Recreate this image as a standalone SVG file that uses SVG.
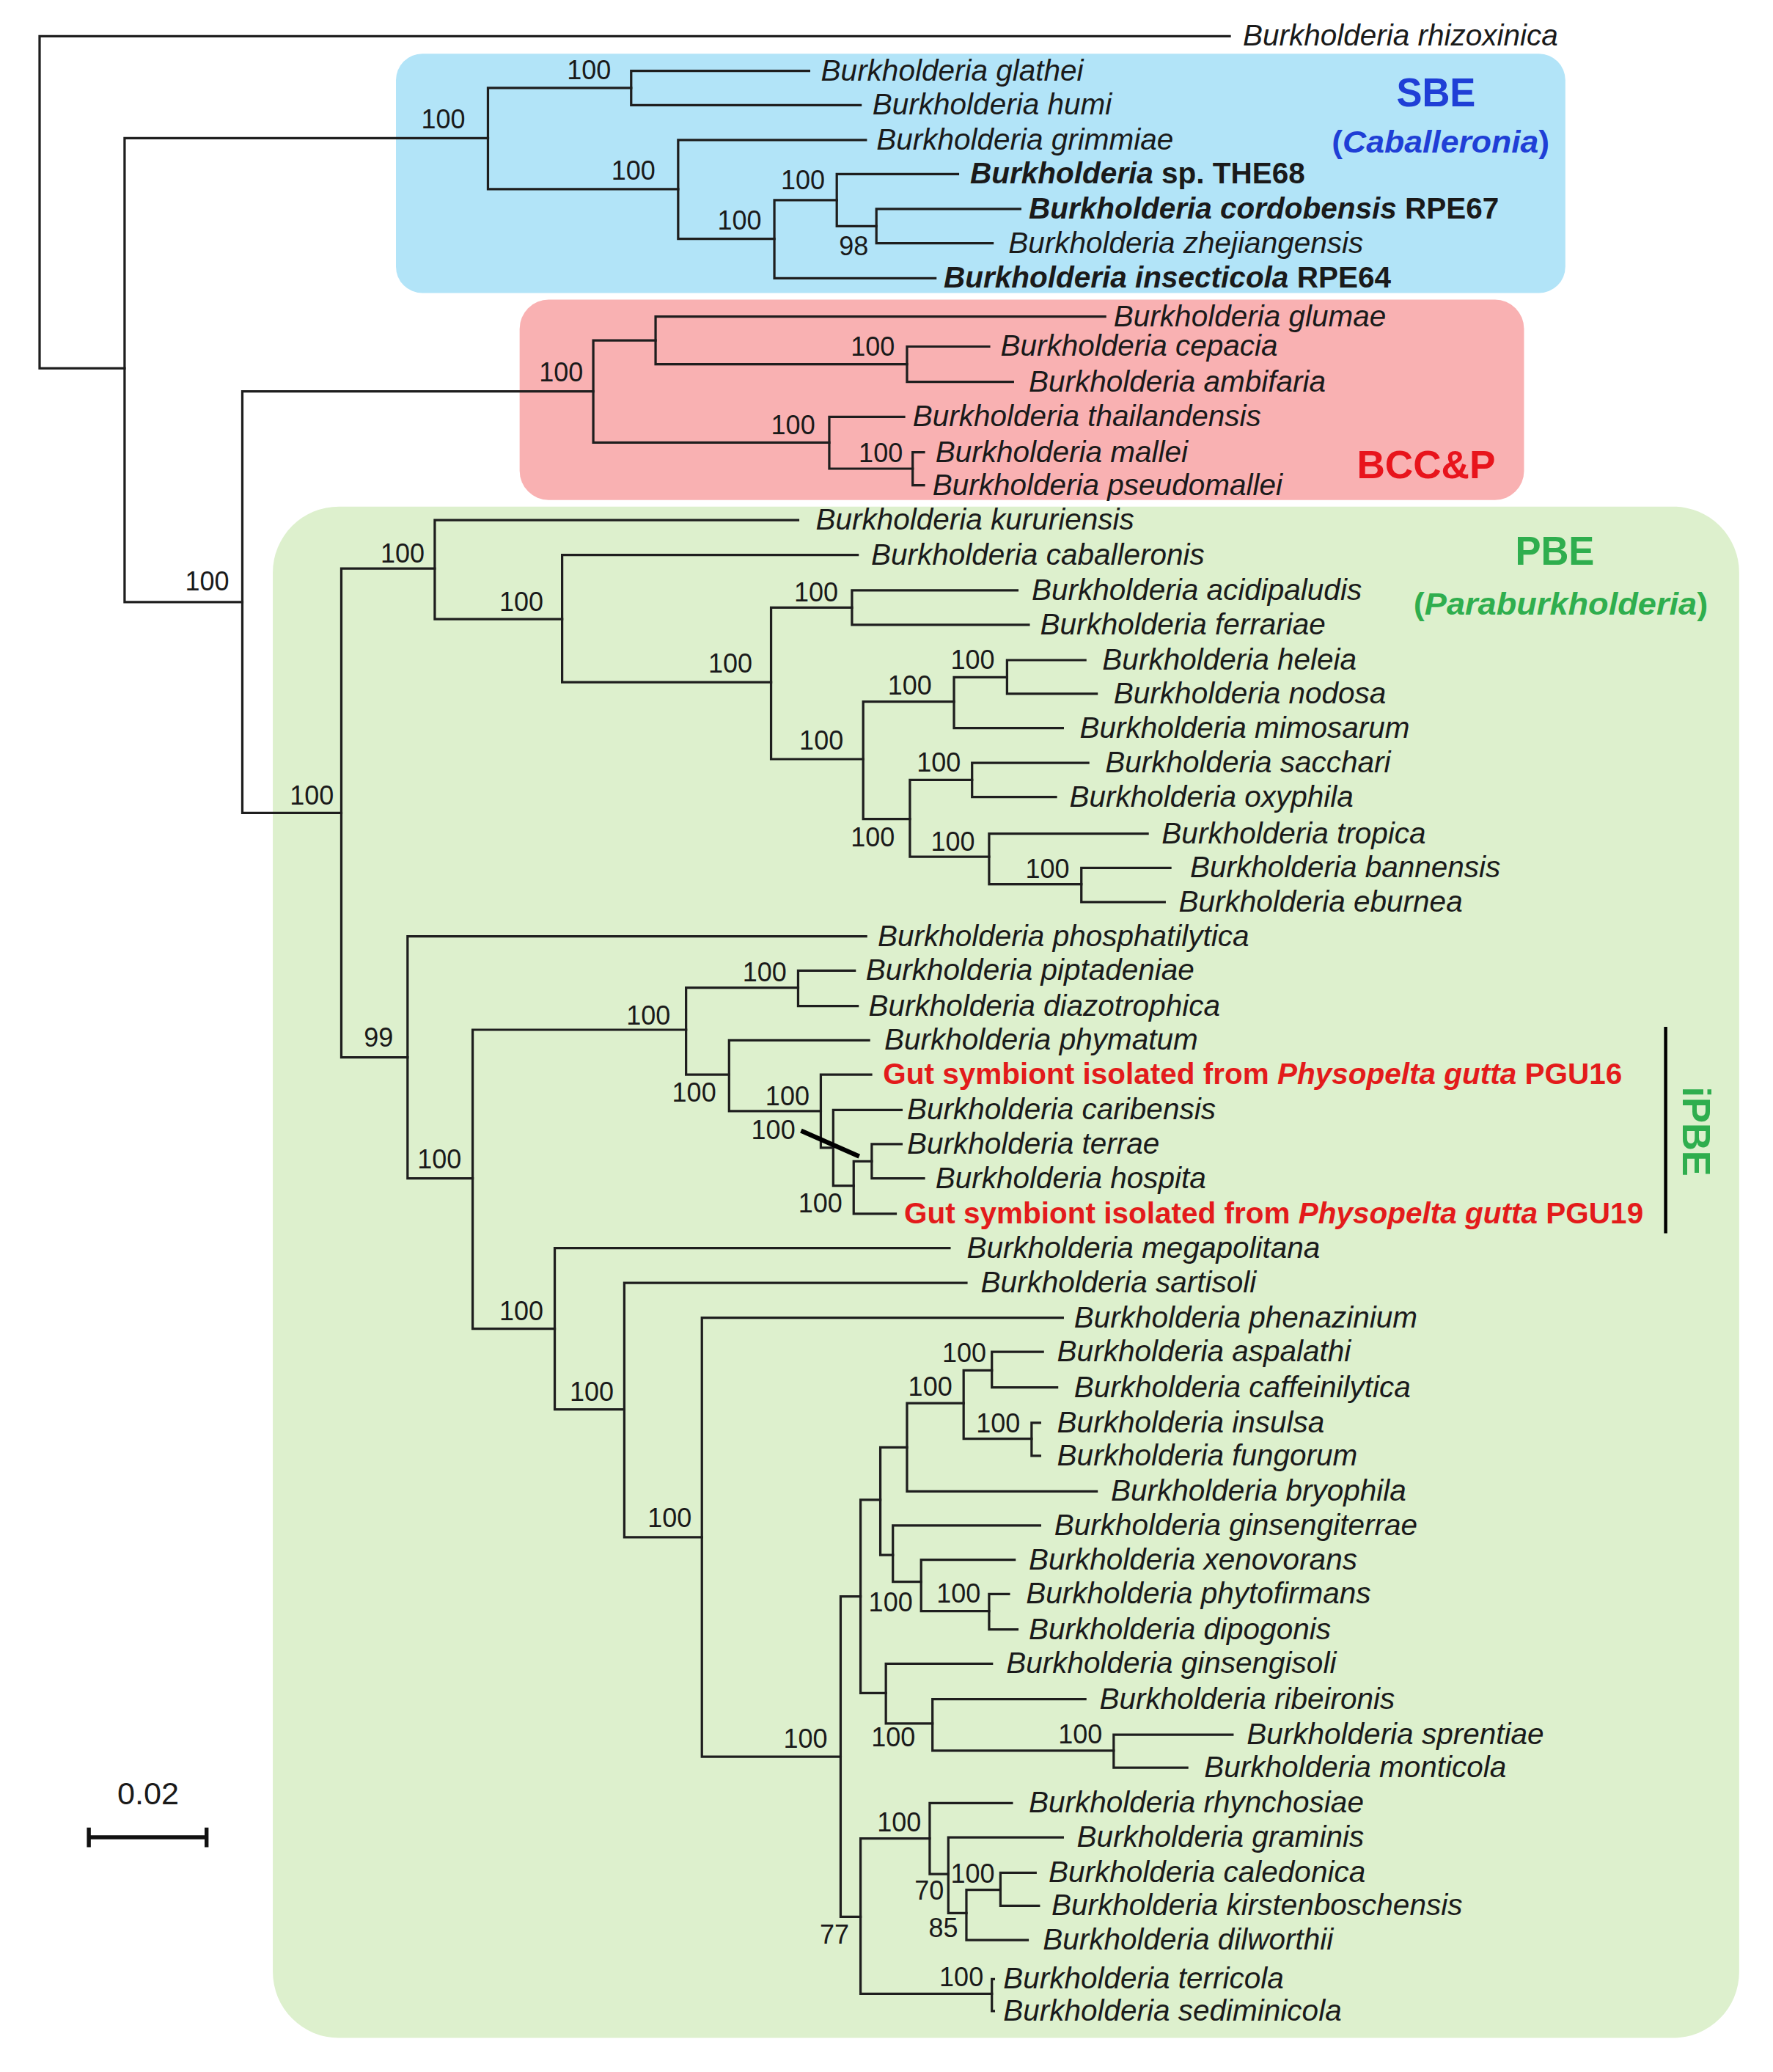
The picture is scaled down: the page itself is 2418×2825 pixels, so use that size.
<svg xmlns="http://www.w3.org/2000/svg" width="2418" height="2825" viewBox="0 0 2418 2825">
<style>
.br{fill:none;stroke:#1e1e1e;stroke-width:1.8;stroke-linecap:square}
.tx{font-family:"Liberation Sans",Arial,sans-serif;font-size:22.5px;font-style:italic;fill:#1a1a1a}
.bd{font-weight:bold}
.up{font-style:normal}
.red{fill:#e31b1b}
.bs{font-family:"Liberation Sans",Arial,sans-serif;font-size:20px;fill:#1a1a1a;text-anchor:end}
.grp{font-family:"Liberation Sans",Arial,sans-serif;font-weight:bold}
.blue{fill:#1f3fd6}
.grn{fill:#2fae4e}
</style>
<rect width="2418" height="2825" fill="#ffffff"/>
<g transform="scale(1.8)">
<g id="clade-boxes">
<rect id="box-SBE" x="300" y="40.7" width="886" height="181.3" rx="20" fill="#b2e4f8"/>
<rect id="box-BCCP" x="393.7" y="227" width="761" height="151.7" rx="22" fill="#f9b1b2"/>
<rect id="box-PBE" x="206.7" y="383.7" width="1111" height="1159.9" rx="50" fill="#ddf0cd"/>
</g>
<g id="connectors" class="br">
<path d="M30,27.4V279 M30,27.4H931.7 M30,279H94.4"/>
<path d="M94.4,104.6V456.1 M94.4,104.6H369.7 M94.4,456.1H183.6"/>
<path d="M369.7,66.6V143.3 M369.7,66.6H478.2 M369.7,143.3H513.8"/>
<path d="M478.2,53.7V79.6 M478.2,53.7H613 M478.2,79.6H652"/>
<path d="M513.8,106V180.9 M513.8,106H656 M513.8,180.9H586.7"/>
<path d="M586.7,151.6V210.8 M586.7,151.6H634 M586.7,210.8H708.7"/>
<path d="M634,131.9V171.3 M634,131.9H725.8 M634,171.3H664"/>
<path d="M664,158.3V184.3 M664,158.3H773 M664,184.3H752"/>
<path d="M183.6,296.5V615.7 M183.6,296.5H449.5 M183.6,615.7H258.6"/>
<path d="M449.5,257.8V335.2 M449.5,257.8H496.7 M449.5,335.2H628.3"/>
<path d="M496.7,239.8V275.9 M496.7,239.8H837.3 M496.7,275.9H687.2"/>
<path d="M687.2,262.5V289.3 M687.2,262.5H749.4 M687.2,289.3H767.4"/>
<path d="M628.3,315.7V355 M628.3,315.7H685 M628.3,355H691.5"/>
<path d="M691.5,342.6V367.6 M691.5,342.6H700 M691.5,367.6H700"/>
<path d="M258.6,430.6V800.9 M258.6,430.6H329.4 M258.6,800.9H308.8"/>
<path d="M329.4,394V468.9 M329.4,394H604.7 M329.4,468.9H425.9"/>
<path d="M425.9,420.4V516.7 M425.9,420.4H649.8 M425.9,516.7H584.2"/>
<path d="M584.2,460.2V575 M584.2,460.2H645.5 M584.2,575H654"/>
<path d="M645.5,447.2V473.2 M645.5,447.2H770.8 M645.5,473.2H779.4"/>
<path d="M654,531.5V620.4 M654,531.5H722.8 M654,620.4H689.4"/>
<path d="M722.8,513V551.5 M722.8,513H763 M722.8,551.5H805.2"/>
<path d="M763,500V525.5 M763,500H822.3 M763,525.5H830.9"/>
<path d="M689.4,590.7V649 M689.4,590.7H736.5 M689.4,649H749.4"/>
<path d="M736.5,577.8V603.7 M736.5,577.8H824.5 M736.5,603.7H800"/>
<path d="M749.4,631.5V669.8 M749.4,631.5H869.5 M749.4,669.8H819.3"/>
<path d="M819.3,657.4V683.3 M819.3,657.4H886.7 M819.3,683.3H882.4"/>
<path d="M308.8,709.2V892.6 M308.8,709.2H656.2 M308.8,892.6H358.1"/>
<path d="M358.1,780V1006.5 M358.1,780H519.8 M358.1,1006.5H420.3"/>
<path d="M519.8,748.1V813.9 M519.8,748.1H604.7 M519.8,813.9H552.4"/>
<path d="M604.7,735.2V762 M604.7,735.2H647.6 M604.7,762H649.8"/>
<path d="M552.4,788V841.6 M552.4,788H658.4 M552.4,841.6H621.9"/>
<path d="M621.9,813.9V869.4 M621.9,813.9H660 M621.9,869.4H631.3"/>
<path d="M631.3,840.7V898.1 M631.3,840.7H683 M631.3,898.1H646.8"/>
<path d="M646.8,879.6V919.4 M646.8,879.6H660.5 M646.8,919.4H678.6"/>
<path d="M660.5,866.6V892.6 M660.5,866.6H683 M660.5,892.6H700"/>
<path d="M420.3,945.4V1067.6 M420.3,945.4H719.4 M420.3,1067.6H473"/>
<path d="M473,971.8V1164.4 M473,971.8H732.2 M473,1164.4H531.8"/>
<path d="M531.8,998.1V1330.6 M531.8,998.1H805.2 M531.8,1330.6H636.9"/>
<path d="M636.9,1209.2V1451.9 M636.9,1209.2H652 M636.9,1451.9H652"/>
<path d="M652,1136.1V1282.4 M652,1136.1H667 M652,1282.4H671.2"/>
<path d="M667,1096.3V1177.8 M667,1096.3H687.2 M667,1177.8H676.5"/>
<path d="M687.2,1062.9V1129.6 M687.2,1062.9H730.1 M687.2,1129.6H830.9"/>
<path d="M730.1,1038V1089.8 M730.1,1038H751.5 M730.1,1089.8H781.6"/>
<path d="M751.5,1024V1050.9 M751.5,1024H790.1 M751.5,1050.9H800.9"/>
<path d="M781.6,1077.7V1102.7 M781.6,1077.7H788 M781.6,1102.7H788"/>
<path d="M676.5,1155.5V1198.1 M676.5,1155.5H788 M676.5,1198.1H697.9"/>
<path d="M697.9,1181.5V1220.3 M697.9,1181.5H768.7 M697.9,1220.3H749.4"/>
<path d="M749.4,1207.4V1234.2 M749.4,1207.4H764.4 M749.4,1234.2H770.8"/>
<path d="M671.2,1260.2V1305.5 M671.2,1260.2H751.5 M671.2,1305.5H706.5"/>
<path d="M706.5,1287V1326 M706.5,1287H822.3 M706.5,1326H843.8"/>
<path d="M843.8,1313.9V1339 M843.8,1313.9H933.8 M843.8,1339H899.5"/>
<path d="M652,1392.6V1510.2 M652,1392.6H704.4 M652,1510.2H751.5"/>
<path d="M704.4,1365.8V1419.5 M704.4,1365.8H766.6 M704.4,1419.5H718.5"/>
<path d="M718.5,1391.7V1449.1 M718.5,1391.7H805.2 M718.5,1449.1H732.2"/>
<path d="M732.2,1431.5V1469.5 M732.2,1431.5H758 M732.2,1469.5H778.6"/>
<path d="M758,1418.6V1443.6 M758,1418.6H784.6 M758,1443.6H787.1"/>
<path d="M751.5,1499.1V1523.2 M751.5,1499.1H753 M751.5,1523.2H753"/>
<path d="M606.9,856.5L651,875.9" style="stroke-width:3.5;stroke:#000;stroke-linecap:butt"/>
<path d="M1262,777.8V934.2" style="stroke-width:2.5;stroke:#000;stroke-linecap:butt"/>
</g>
<g id="leaves" class="tx">
<g id="leaf-rhizoxinica"><text x="941.6" y="34.6">Burkholderia rhizoxinica</text></g>
<g id="leaf-glathei"><text x="622" y="60.9">Burkholderia glathei</text></g>
<g id="leaf-humi"><text x="661" y="86.8">Burkholderia humi</text></g>
<g id="leaf-grimmiae"><text x="664" y="113.2">Burkholderia grimmiae</text></g>
<g id="leaf-THE68"><text x="735" y="139.1" class="bd">Burkholderia<tspan class="up"> sp. THE68</tspan></text></g>
<g id="leaf-cordobensis"><text x="779.4" y="165.5" class="bd">Burkholderia cordobensis<tspan class="up"> RPE67</tspan></text></g>
<g id="leaf-zhejiangensis"><text x="764" y="191.5">Burkholderia zhejiangensis</text></g>
<g id="leaf-insecticola"><text x="715" y="218" class="bd">Burkholderia insecticola<tspan class="up"> RPE64</tspan></text></g>
<g id="leaf-glumae"><text x="843.8" y="247">Burkholderia glumae</text></g>
<g id="leaf-cepacia"><text x="758" y="269.7">Burkholderia cepacia</text></g>
<g id="leaf-ambifaria"><text x="779.4" y="296.5">Burkholderia ambifaria</text></g>
<g id="leaf-thailandensis"><text x="691.5" y="322.9">Burkholderia thailandensis</text></g>
<g id="leaf-mallei"><text x="708.7" y="349.8">Burkholderia mallei</text></g>
<g id="leaf-pseudomallei"><text x="706.5" y="374.8">Burkholderia pseudomallei</text></g>
<g id="leaf-kururiensis"><text x="618" y="401.2">Burkholderia kururiensis</text></g>
<g id="leaf-caballeronis"><text x="660" y="427.6">Burkholderia caballeronis</text></g>
<g id="leaf-acidipaludis"><text x="781.6" y="454.4">Burkholderia acidipaludis</text></g>
<g id="leaf-ferrariae"><text x="788" y="480.4">Burkholderia ferrariae</text></g>
<g id="leaf-heleia"><text x="835.2" y="507.2">Burkholderia heleia</text></g>
<g id="leaf-nodosa"><text x="843.8" y="532.7">Burkholderia nodosa</text></g>
<g id="leaf-mimosarum"><text x="818" y="558.7">Burkholderia mimosarum</text></g>
<g id="leaf-sacchari"><text x="837.3" y="585">Burkholderia sacchari</text></g>
<g id="leaf-oxyphila"><text x="810.3" y="610.9">Burkholderia oxyphila</text></g>
<g id="leaf-tropica"><text x="880.2" y="638.7">Burkholderia tropica</text></g>
<g id="leaf-bannensis"><text x="901.7" y="664.6">Burkholderia bannensis</text></g>
<g id="leaf-eburnea"><text x="893" y="690.5">Burkholderia eburnea</text></g>
<g id="leaf-phosphatilytica"><text x="665" y="716.4">Burkholderia phosphatilytica</text></g>
<g id="leaf-piptadeniae"><text x="656" y="742.4">Burkholderia piptadeniae</text></g>
<g id="leaf-diazotrophica"><text x="658" y="769.2">Burkholderia diazotrophica</text></g>
<g id="leaf-phymatum"><text x="670" y="795.2">Burkholderia phymatum</text></g>
<g id="leaf-PGU16"><text x="669" y="821.1" class="bd up red">Gut symbiont isolated from <tspan font-style="italic">Physopelta gutta</tspan> PGU16</text></g>
<g id="leaf-caribensis"><text x="687.2" y="847.9">Burkholderia caribensis</text></g>
<g id="leaf-terrae"><text x="687.2" y="873.8">Burkholderia terrae</text></g>
<g id="leaf-hospita"><text x="708.7" y="899.8">Burkholderia hospita</text></g>
<g id="leaf-PGU19"><text x="685" y="926.6" class="bd up red">Gut symbiont isolated from <tspan font-style="italic">Physopelta gutta</tspan> PGU19</text></g>
<g id="leaf-megapolitana"><text x="732.5" y="952.6">Burkholderia megapolitana</text></g>
<g id="leaf-sartisoli"><text x="743" y="979">Burkholderia sartisoli</text></g>
<g id="leaf-phenazinium"><text x="813.7" y="1005.3">Burkholderia phenazinium</text></g>
<g id="leaf-aspalathi"><text x="800.9" y="1031.2">Burkholderia aspalathi</text></g>
<g id="leaf-caffeinilytica"><text x="813.7" y="1058.1">Burkholderia caffeinilytica</text></g>
<g id="leaf-insulsa"><text x="800.9" y="1084.9">Burkholderia insulsa</text></g>
<g id="leaf-fungorum"><text x="800.9" y="1109.9">Burkholderia fungorum</text></g>
<g id="leaf-bryophila"><text x="841.6" y="1136.8">Burkholderia bryophila</text></g>
<g id="leaf-ginsengiterrae"><text x="798.7" y="1162.7">Burkholderia ginsengiterrae</text></g>
<g id="leaf-xenovorans"><text x="779.4" y="1188.7">Burkholderia xenovorans</text></g>
<g id="leaf-phytofirmans"><text x="777.3" y="1214.6">Burkholderia phytofirmans</text></g>
<g id="leaf-dipogonis"><text x="779.4" y="1241.4">Burkholderia dipogonis</text></g>
<g id="leaf-ginsengisoli"><text x="762.3" y="1267.4">Burkholderia ginsengisoli</text></g>
<g id="leaf-ribeironis"><text x="833" y="1294.2">Burkholderia ribeironis</text></g>
<g id="leaf-sprentiae"><text x="944.6" y="1321.1">Burkholderia sprentiae</text></g>
<g id="leaf-monticola"><text x="912.4" y="1346.2">Burkholderia monticola</text></g>
<g id="leaf-rhynchosiae"><text x="779.4" y="1373">Burkholderia rhynchosiae</text></g>
<g id="leaf-graminis"><text x="815.9" y="1398.9">Burkholderia graminis</text></g>
<g id="leaf-caledonica"><text x="794.4" y="1425.8">Burkholderia caledonica</text></g>
<g id="leaf-kirstenboschensis"><text x="796.6" y="1450.8">Burkholderia kirstenboschensis</text></g>
<g id="leaf-dilworthii"><text x="790.1" y="1476.7">Burkholderia dilworthii</text></g>
<g id="leaf-terricola"><text x="760.1" y="1506.3">Burkholderia terricola</text></g>
<g id="leaf-sediminicola"><text x="760.1" y="1530.4">Burkholderia sediminicola</text></g>
</g>
<g id="support-values" class="bs">
<text x="463" y="60">100</text>
<text x="352.5" y="97">100</text>
<text x="496.6" y="136">100</text>
<text x="577" y="174">100</text>
<text x="625" y="143.5">100</text>
<text x="658" y="193.5">98</text>
<text x="441.8" y="289">100</text>
<text x="173.7" y="447.2">100</text>
<text x="678" y="269.5">100</text>
<text x="617.6" y="328.7">100</text>
<text x="684" y="350">100</text>
<text x="321.7" y="426">100</text>
<text x="411.7" y="463">100</text>
<text x="570" y="509.3">100</text>
<text x="635" y="455.6">100</text>
<text x="253" y="609.2">100</text>
<text x="639" y="567.6">100</text>
<text x="706" y="526">100</text>
<text x="753.7" y="506.5">100</text>
<text x="728" y="584.2">100</text>
<text x="678" y="641">100</text>
<text x="738.7" y="644.4">100</text>
<text x="810.3" y="664.8">100</text>
<text x="298" y="793">99</text>
<text x="349.6" y="885.2">100</text>
<text x="508" y="776">100</text>
<text x="596" y="743.5">100</text>
<text x="542.6" y="834.2">100</text>
<text x="613.3" y="837">100</text>
<text x="602.6" y="862.9">100</text>
<text x="638.2" y="918.5">100</text>
<text x="411.7" y="1000">100</text>
<text x="465" y="1061">100</text>
<text x="524.1" y="1156.4">100</text>
<text x="747.3" y="1031.5">100</text>
<text x="721.5" y="1057.4">100</text>
<text x="773" y="1085.1">100</text>
<text x="743" y="1213.9">100</text>
<text x="691.5" y="1220.3">100</text>
<text x="627" y="1324.1">100</text>
<text x="693.5" y="1323">100</text>
<text x="835.2" y="1320.4">100</text>
<text x="697.9" y="1387">100</text>
<text x="715.1" y="1439">70</text>
<text x="725.8" y="1467">85</text>
<text x="753.7" y="1426">100</text>
<text x="643.4" y="1472.3">77</text>
<text x="745.1" y="1504.7">100</text>
</g>
<g id="group-labels" class="grp">
<g id="label-SBE">
<text x="1058" y="80.6" font-size="31" textLength="60" lengthAdjust="spacingAndGlyphs" class="blue">SBE</text>
<text x="1009" y="115.5" font-size="24" textLength="165" lengthAdjust="spacingAndGlyphs" class="blue">(<tspan font-style="italic">Caballeronia</tspan>)</text>
</g>
<g id="label-BCCP"><text x="1028" y="362" font-size="30" textLength="105" lengthAdjust="spacingAndGlyphs" fill="#e8141c">BCC&amp;P</text></g>
<g id="label-PBE">
<text x="1148" y="427.8" font-size="31" textLength="60" lengthAdjust="spacingAndGlyphs" class="grn">PBE</text>
<text x="1071" y="465.5" font-size="24" textLength="223" lengthAdjust="spacingAndGlyphs" class="grn">(<tspan font-style="italic">Paraburkholderia</tspan>)</text>
</g>
<g id="label-iPBE"><text transform="translate(1275,823) rotate(90)" font-size="30" textLength="68" lengthAdjust="spacingAndGlyphs" class="grn">iPBE</text></g>
</g>
<g id="scale-bar">
<path d="M67.3,1391.7H156.5 M67.3,1384.3V1399.1 M156.5,1384.3V1399.1" fill="none" stroke="#111" stroke-width="3"/>
<text x="112.2" y="1366.7" font-family="Liberation Sans, Arial, sans-serif" font-size="24" text-anchor="middle" fill="#1a1a1a">0.02</text>
</g>
</g>
</svg>
